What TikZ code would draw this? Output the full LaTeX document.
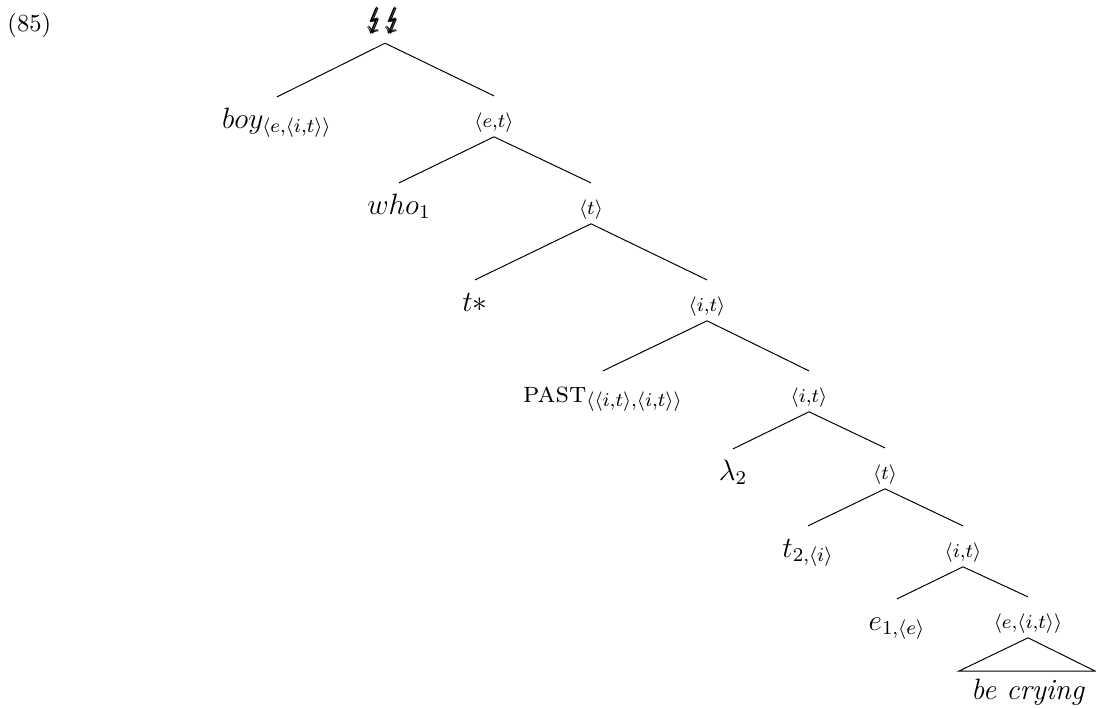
\documentclass[tikz,border=0pt]{standalone}
\usepackage{amsmath,amsbsy}
\usepackage{stmaryrd}
\begin{document}
\begin{tikzpicture}[x=0.408pt,y=-0.408pt]
        \tikzstyle{term}=[font=\large,anchor=base,inner sep=0pt,text height=12.5pt,text depth=3.8pt]
        \tikzstyle{typ}=[font=\large,anchor=base,inner sep=0pt,text height=12.5pt,text depth=3.8pt]
        \tikzstyle{edge}=[draw,thin]
        \useasboundingbox (0,0) rectangle (1096,708);
        \node [anchor=base west,inner sep=0pt] (ex) at (7,31) {(85)};
        \node [font=\large,anchor=base,inner sep=0pt,text depth=6pt] (top) at (385,28) {$\pmb{\lightning\lightning}$};
        \node [term] (boy) at (277,128) {$boy_{\langle e,\langle i,t\rangle\rangle}$};
        \node [typ] (et) at (494,127) {$\scriptstyle\langle e,t\rangle$};
        \node [term] (who) at (399,214) {$who_1$};
        \node [typ] (t1) at (591,214) {$\scriptstyle\langle t\rangle$};
        \node [term] (tst) at (475,311) {$t*$};
        \node [typ] (it1) at (707,311) {$\scriptstyle\langle i,t\rangle$};
        \node [term] (past) at (603,402) {\textsc{past}$_{\langle\langle i,t\rangle,\langle i,t\rangle\rangle}$};
        \node [typ] (it2) at (809,402) {$\scriptstyle\langle i,t\rangle$};
        \node [term] (lam) at (733,480) {$\lambda_2$};
        \node [typ] (t2) at (885,479) {$\scriptstyle\langle t\rangle$};
        \node [term] (tt) at (808,557) {$t_{2,\langle i\rangle}$};
        \node [typ] (it3) at (963,557) {$\scriptstyle\langle i,t\rangle$};
        \node [term] (e1) at (897,630) {$e_{1,\langle e\rangle}$};
        \node [typ] (eit) at (1028,628) {$\scriptstyle\langle e,\langle i,t\rangle\rangle$};
        \node [font=\large,anchor=base,inner sep=0pt] (cry) at (1028,699) {\textit{be crying}};
        \coordinate (bl) at (959,671);
        \coordinate (br) at (1095,671);
        \path[edge] (top.south) edge (boy.north) edge (et.north);
        \path[edge] (et.south) edge (who.north) edge (t1.north);
        \path[edge] (t1.south) edge (tst.north) edge (it1.north);
        \path[edge] (it1.south) edge (past.north) edge (it2.north);
        \path[edge] (it2.south) edge (lam.north) edge (t2.north);
        \path[edge] (t2.south) edge (tt.north) edge (it3.north);
        \path[edge] (it3.south) edge (e1.north) edge (eit.north);
        \draw (eit.south) -- (bl) -- (br) -- cycle;
\end{tikzpicture}
\end{document}
